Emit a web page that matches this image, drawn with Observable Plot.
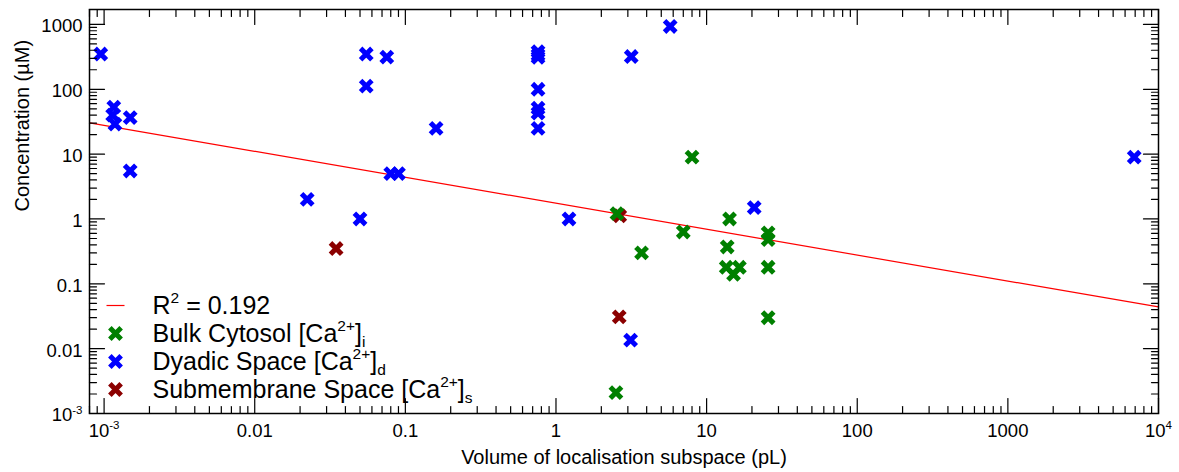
<!DOCTYPE html>
<html>
<head>
<meta charset="utf-8">
<script src="https://cdn.jsdelivr.net/npm/d3@7"></script>
<script src="https://cdn.jsdelivr.net/npm/@observablehq/plot@0.6"></script>
<style>
  html, body { margin: 0; padding: 0; background: #fff; }
  #chart svg { display: block; }
</style>
</head>
<body>
<div id="chart"></div>
<script>
// Bulk cytosol [Ca2+]i : volume (pL) and concentration (µM)
const bulkVolume = [8.0, 2.54, 7.0, 3.7, 14.2, 13.7, 13.5, 15.1, 16.5, 25.6, 25.6, 25.6, 25.6, 2.5];
const bulkConc   = [9.0, 1.21, 0.63, 0.30, 1.0, 0.37, 0.18, 0.14, 0.18, 0.61, 0.48, 0.18, 0.030, 0.0021];

// Dyadic space [Ca2+]d
const dyadicVolume = [0.00095, 0.00116, 0.00114, 0.00118, 0.00149, 0.00149, 0.0223, 0.050, 0.055, 0.055,
                      0.0753, 0.080, 0.090, 0.16, 0.76, 0.76, 0.76, 0.76, 0.76, 0.76, 0.76,
                      1.22, 3.16, 5.73, 20.7, 6900, 3.13];
const dyadicConc   = [350, 53, 40, 29, 36.5, 5.5, 2.0, 1.0, 350, 112,
                      313, 5.0, 5.0, 25, 380, 340, 310, 100, 51, 43, 25,
                      1.0, 320, 930, 1.5, 9.0, 0.0135];

// Submembrane space [Ca2+]s
const subVolume = [0.0347, 2.65, 2.63];
const subConc   = [0.35, 1.12, 0.031];

// Power-law fit: log10(conc) = intercept + slope * log10(volume)
const fitIntercept = 0.243;
const fitSlope = -0.4;
const fitR2 = 0.192;

// Axis domains and major tick labels
const xDomain = [0.0008, 10000];
const yDomain = [0.001, 1700];
const xMajor = [1e-3, 1e-2, 0.1, 1, 10, 100, 1000, 1e4];
const xTickLabels = ["10^{-3}", "0.01", "0.1", "1", "10", "100", "1000", "10^{4}"];
const yMajor = [1e-3, 1e-2, 0.1, 1, 10, 100, 1000];
const yTickLabels = ["10^{-3}", "0.01", "0.1", "1", "10", "100", "1000"];

// Series, in drawing order (last on top)
const seriesNames = ["Submembrane Space [Ca^{2+}]_{s}", "Dyadic Space [Ca^{2+}]_{d}", "Bulk Cytosol [Ca^{2+}]_{i}"];
const seriesColors = ["#8b0000", "#0000ff", "#008000"];
const seriesVolumes = [subVolume, dyadicVolume, bulkVolume];
const seriesConcs = [subConc, dyadicConc, bulkConc];

// Legend order (top to bottom)
const legendOrder = [2, 1, 0];
const fitLabel = `R^{2} = ${fitR2}`;

const points = seriesNames.flatMap((name, s) =>
  seriesVolumes[s].map((v, i) => ({series: name, volume: v, conc: seriesConcs[s][i], color: seriesColors[s]})));

const fitLine = xDomain.map(x => ({x, y: 10 ** (fitIntercept + fitSlope * Math.log10(x))}));

function minorTicks([lo, hi]) {
  const out = [];
  for (let e = Math.floor(Math.log10(lo)); e <= Math.ceil(Math.log10(hi)); e++)
    for (let m = 2; m <= 9; m++) {
      const v = m * 10 ** e;
      if (v >= lo && v <= hi) out.push(v);
    }
  return out;
}
const xMinor = minorTicks(xDomain);
const yMinor = minorTicks(yDomain);

// Inward-pointing ticks on all four sides of the frame
const tickShape = {draw(ctx, l) { ctx.moveTo(0, 0); ctx.lineTo(0, -l); }};
const MAJOR = 15, MINOR = 7;
const tickMarks = [];
for (const [values, length] of [[xMajor, MAJOR], [xMinor, MINOR]]) {
  tickMarks.push(Plot.vector(values, {x: d => d, frameAnchor: "bottom", rotate: 0, length, anchor: "start", shape: tickShape, stroke: "black", strokeWidth: 1.2}));
  tickMarks.push(Plot.vector(values, {x: d => d, frameAnchor: "top", rotate: 180, length, anchor: "start", shape: tickShape, stroke: "black", strokeWidth: 1.2}));
}
for (const [values, length] of [[yMajor, MAJOR], [yMinor, MINOR]]) {
  tickMarks.push(Plot.vector(values, {y: d => d, frameAnchor: "left", rotate: 90, length, anchor: "start", shape: tickShape, stroke: "black", strokeWidth: 1.2}));
  tickMarks.push(Plot.vector(values, {y: d => d, frameAnchor: "right", rotate: -90, length, anchor: "start", shape: tickShape, stroke: "black", strokeWidth: 1.2}));
}

// Legend rows, offsets from the bottom-left corner of the frame
const legendRowDy = [-108, -80, -52, -24];
const legendMarkDx = 26;
const legendTextDx = 63;
const legendFont = 25;
const lineSymbol = {draw(ctx) { ctx.moveTo(-9, 0); ctx.lineTo(9, 0); }};

const legendText = (label, dy) => Plot.text([label], {
  text: d => d, frameAnchor: "bottom-left", lineAnchor: "middle", dx: legendTextDx, dy,
  textAnchor: "start", fontSize: legendFont, fill: "black"
});
const legendMarks = [
  Plot.dot([0], {frameAnchor: "bottom-left", dx: legendMarkDx, dy: legendRowDy[0], symbol: lineSymbol, stroke: "#ff0000", strokeWidth: 1.2, r: 5}),
  legendText(fitLabel, legendRowDy[0])
];
legendOrder.forEach((s, k) => {
  legendMarks.push(Plot.dot([0], {frameAnchor: "bottom-left", dx: legendMarkDx, dy: legendRowDy[k + 1], symbol: "times", stroke: seriesColors[s], strokeWidth: 5, r: 5.2}));
  legendMarks.push(legendText(seriesNames[s], legendRowDy[k + 1]));
});

const chart = Plot.plot({
  width: 1179,
  height: 472,
  marginLeft: 89,
  marginRight: 21,
  marginTop: 9,
  marginBottom: 59,
  style: {fontFamily: "'Liberation Sans', Arial, Helvetica, sans-serif", color: "black", background: "white", overflow: "visible"},
  x: {type: "log", domain: xDomain},
  y: {type: "log", domain: yDomain},
  marks: [
    Plot.line(fitLine, {x: "x", y: "y", stroke: "#ff0000", strokeWidth: 1.2}),
    Plot.dot(points, {x: "volume", y: "conc", stroke: "color", symbol: "times", r: 5.2, strokeWidth: 5}),
    ...tickMarks,
    Plot.frame({stroke: "black", strokeWidth: 1.5}),
    Plot.axisX(xMajor, {anchor: "bottom", tickSize: 0, tickPadding: 10, fontSize: 18.5, label: null, fill: "black",
      tickFormat: d => xTickLabels[xMajor.indexOf(d)]}),
    Plot.axisY(yMajor, {anchor: "left", tickSize: 0, tickPadding: 7, dy: 2, fontSize: 18.5, label: null, fill: "black",
      tickFormat: d => yTickLabels[yMajor.indexOf(d)]}),
    Plot.text(["Volume of localisation subspace (pL)"], {text: d => d, frameAnchor: "bottom", lineAnchor: "middle", dy: 44, fontSize: 20, fill: "black"}),
    Plot.text(["Concentration (µM)"], {text: d => d, frameAnchor: "left", lineAnchor: "middle", dx: -67, rotate: -90, fontSize: 20, fill: "black"}),
    ...legendMarks
  ]
});

document.getElementById("chart").appendChild(chart);

// Turn ^{...} and _{...} markup into raised / lowered tspans
const SVGNS = "http://www.w3.org/2000/svg";
chart.querySelectorAll("text").forEach(el => {
  const s = el.textContent;
  if (!/[\^_]\{/.test(s)) return;
  const fs = parseFloat(getComputedStyle(el).fontSize) || 18;
  const parts = s.split(/([\^_]\{[^}]*\})/).filter(p => p);
  el.textContent = "";
  let offset = 0;
  for (const p of parts) {
    const t = document.createElementNS(SVGNS, "tspan");
    let target = 0, text = p, size = null;
    if (p.startsWith("^{")) { target = -0.42 * fs; text = p.slice(2, -1); size = 0.62 * fs; }
    else if (p.startsWith("_{")) { target = 0.22 * fs; text = p.slice(2, -1); size = 0.62 * fs; }
    t.setAttribute("dy", String(target - offset));
    if (size) t.setAttribute("font-size", size.toFixed(1));
    offset = target;
    t.textContent = text;
    el.appendChild(t);
  }
});
</script>
</body>
</html>
